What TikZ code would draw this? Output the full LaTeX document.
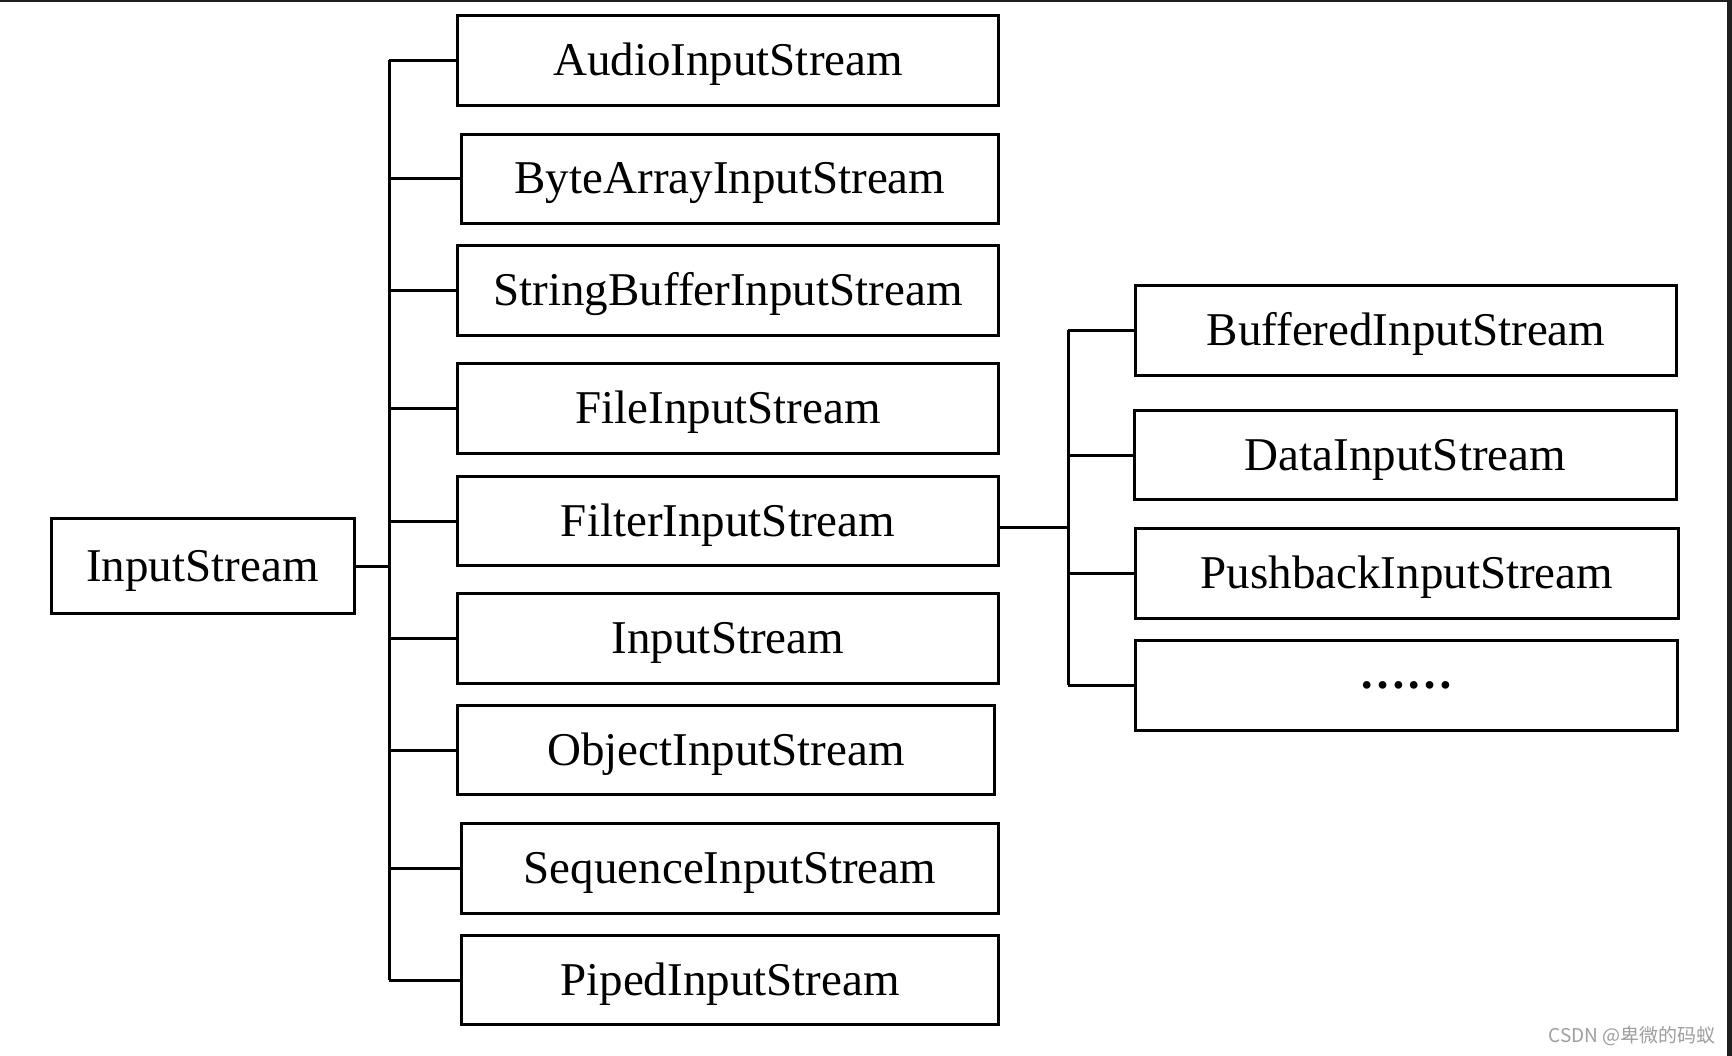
\documentclass[tikz,border=0pt]{standalone}
\usepackage{fontspec}
\setmainfont{Liberation Serif}
\newfontfamily\wmfont{Noto Sans CJK SC}
\begin{document}
\begin{tikzpicture}[x=1pt,y=-1pt,
  boxbase/.style={draw=black, line width=3pt, fill=white, inner sep=0pt,
    font=\fontsize{47}{56}\selectfont, text=black},
  box/.style={boxbase, text height=35pt, text depth=5pt},
  dotsbox/.style={boxbase, font=\fontsize{47}{56}\selectfont\bfseries},
  conn/.style={draw=black, line width=3pt}]
\useasboundingbox (0,0) rectangle (1732,1056);
\fill[white] (0,0) rectangle (1732,1056);
\fill[black!88] (1727,0) rectangle (1732,1056);
\fill[black!88] (0,0) rectangle (1732,2);
% root
\node[box, minimum width=303, minimum height=95] (root) at (202.5,566) {InputStream};
% left column
\node[box, minimum width=541, minimum height=90] (audio) at (728,60.5) {AudioInputStream};
\node[box, minimum width=537, minimum height=89] (bytearr) at (730,179) {ByteArrayInputStream};
\node[box, minimum width=541, minimum height=90] (strbuf) at (728,290.5) {StringBufferInputStream};
\node[box, minimum width=541, minimum height=90] (file) at (728,408.5) {FileInputStream};
\node[box, minimum width=541, minimum height=89] (filter) at (728,521) {FilterInputStream};
\node[box, minimum width=541, minimum height=90] (input) at (728,638.5) {InputStream};
\node[box, minimum width=537, minimum height=89] (object) at (726,750) {ObjectInputStream};
\node[box, minimum width=537, minimum height=90] (sequence) at (730,868.5) {SequenceInputStream};
\node[box, minimum width=537, minimum height=89] (piped) at (730,980) {PipedInputStream};
% right column
\node[box, minimum width=541, minimum height=90] (buffered) at (1406,330.5) {BufferedInputStream};
\node[box, minimum width=542, minimum height=89] (data) at (1405.5,455) {DataInputStream};
\node[box, minimum width=543, minimum height=90] (pushback) at (1407,573.5) {PushbackInputStream};
\node[dotsbox, minimum width=542, minimum height=90] (more) at (1406,685) {……};
% trunk coordinates
\coordinate (t1) at (389,0);
\coordinate (t2) at (1068,0);
\coordinate (fj) at (1000,527);
% left connectors
\draw[conn] (root.east) -- (t1 |- root.east);
\draw[conn] (t1 |- audio.west) -- (t1 |- piped.west);
\foreach \n in {audio,bytearr,strbuf,file,filter,input,object,sequence,piped}
  \draw[conn] (t1 |- \n.west) -- (\n.west);
% right connectors
\draw[conn] (fj) -- (t2 |- fj);
\draw[conn] (t2 |- buffered.west) -- (t2 |- more.west);
\foreach \n in {buffered,data,pushback,more}
  \draw[conn] (t2 |- \n.west) -- (\n.west);
% watermark
\node[anchor=east, inner sep=0pt, text=black!38, font=\wmfont\fontsize{19}{22}\selectfont] (wm) at (1716,1036) {CSDN @卑微的码蚁};
\end{tikzpicture}
\end{document}
